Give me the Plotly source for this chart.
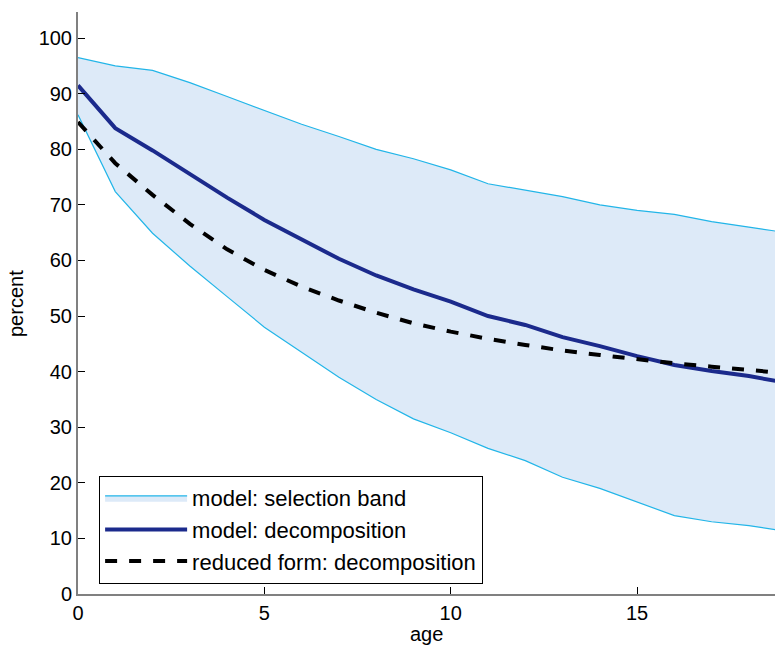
import plotly.graph_objects as go

age = list(range(0, 20))
band_upper = [96.5, 95.0, 94.2, 92.0, 89.5, 87.0, 84.5, 82.3, 80.0, 78.3, 76.3, 73.8, 72.7, 71.5, 70.0, 69.0, 68.3, 67.0, 66.0, 65.0]
band_lower = [86.2, 72.4, 64.9, 59.0, 53.5, 48.0, 43.5, 39.0, 35.0, 31.5, 29.0, 26.2, 24.0, 21.0, 19.0, 16.5, 14.1, 13.0, 12.3, 11.3]
model_decomp = [91.5, 83.8, 79.8, 75.5, 71.3, 67.3, 63.7, 60.3, 57.3, 54.8, 52.6, 50.0, 48.4, 46.2, 44.6, 42.8, 41.2, 40.1, 39.2, 38.0]
reduced_decomp = [84.9, 77.5, 71.8, 66.6, 62.0, 58.3, 55.3, 52.8, 50.6, 48.7, 47.2, 45.9, 44.8, 43.8, 43.0, 42.2, 41.5, 40.9, 40.3, 39.7]

x_ticks = [0, 5, 10, 15]
y_ticks = list(range(0, 101, 10))

BAND_FILL = "#DDEAF8"
BAND_LINE = "#22B5E8"
NAVY = "#1B2A8C"

fig = go.Figure()
fig.add_trace(go.Scatter(x=age, y=band_lower, mode="lines",
                         line=dict(color=BAND_LINE, width=1.2),
                         showlegend=False, hoverinfo="skip"))
fig.add_trace(go.Scatter(x=age, y=band_upper, mode="lines", fill="tonexty",
                         fillcolor=BAND_FILL,
                         line=dict(color=BAND_LINE, width=1.2),
                         name="model: selection band"))
fig.add_trace(go.Scatter(x=age, y=model_decomp, mode="lines",
                         line=dict(color=NAVY, width=4),
                         name="model: decomposition"))
fig.add_trace(go.Scatter(x=age, y=reduced_decomp, mode="lines",
                         line=dict(color="black", width=4, dash="dash"),
                         name="reduced form: decomposition"))

fig.update_layout(
    width=775, height=647,
    margin=dict(l=78, r=0, t=12, b=53),
    plot_bgcolor="white", paper_bgcolor="white",
    font=dict(family="Liberation Sans, Arial, sans-serif", size=20, color="black"),
    legend=dict(x=0.03, y=0.203, xanchor="left", yanchor="top",
                bgcolor="white", bordercolor="black", borderwidth=1.2,
                font=dict(size=22), itemwidth=82, tracegroupgap=0,
                traceorder="normal"),
    annotations=[
        dict(text="age", x=0.5, y=-(634 - 594) / 582, xref="paper", yref="paper",
             showarrow=False, xanchor="center", yanchor="middle",
             font=dict(size=20)),
        dict(text="percent", x=(16 - 78) / 697, y=0.5,
             xref="paper", yref="paper", textangle=-90, showarrow=False,
             xanchor="center", yanchor="middle", font=dict(size=20)),
    ],
)
fig.update_xaxes(range=[0, 18.7], tickvals=x_ticks, ticks="inside", ticklen=7,
                 tickcolor="black", showgrid=False, zeroline=False,
                 showline=True, linecolor="#808080", linewidth=2)
fig.update_yaxes(range=[0, 104.7], tickvals=y_ticks, ticks="inside", ticklen=7,
                 tickcolor="black", showgrid=False, zeroline=False,
                 showline=True, linecolor="#808080", linewidth=2)

fig.write_html("out.html")
